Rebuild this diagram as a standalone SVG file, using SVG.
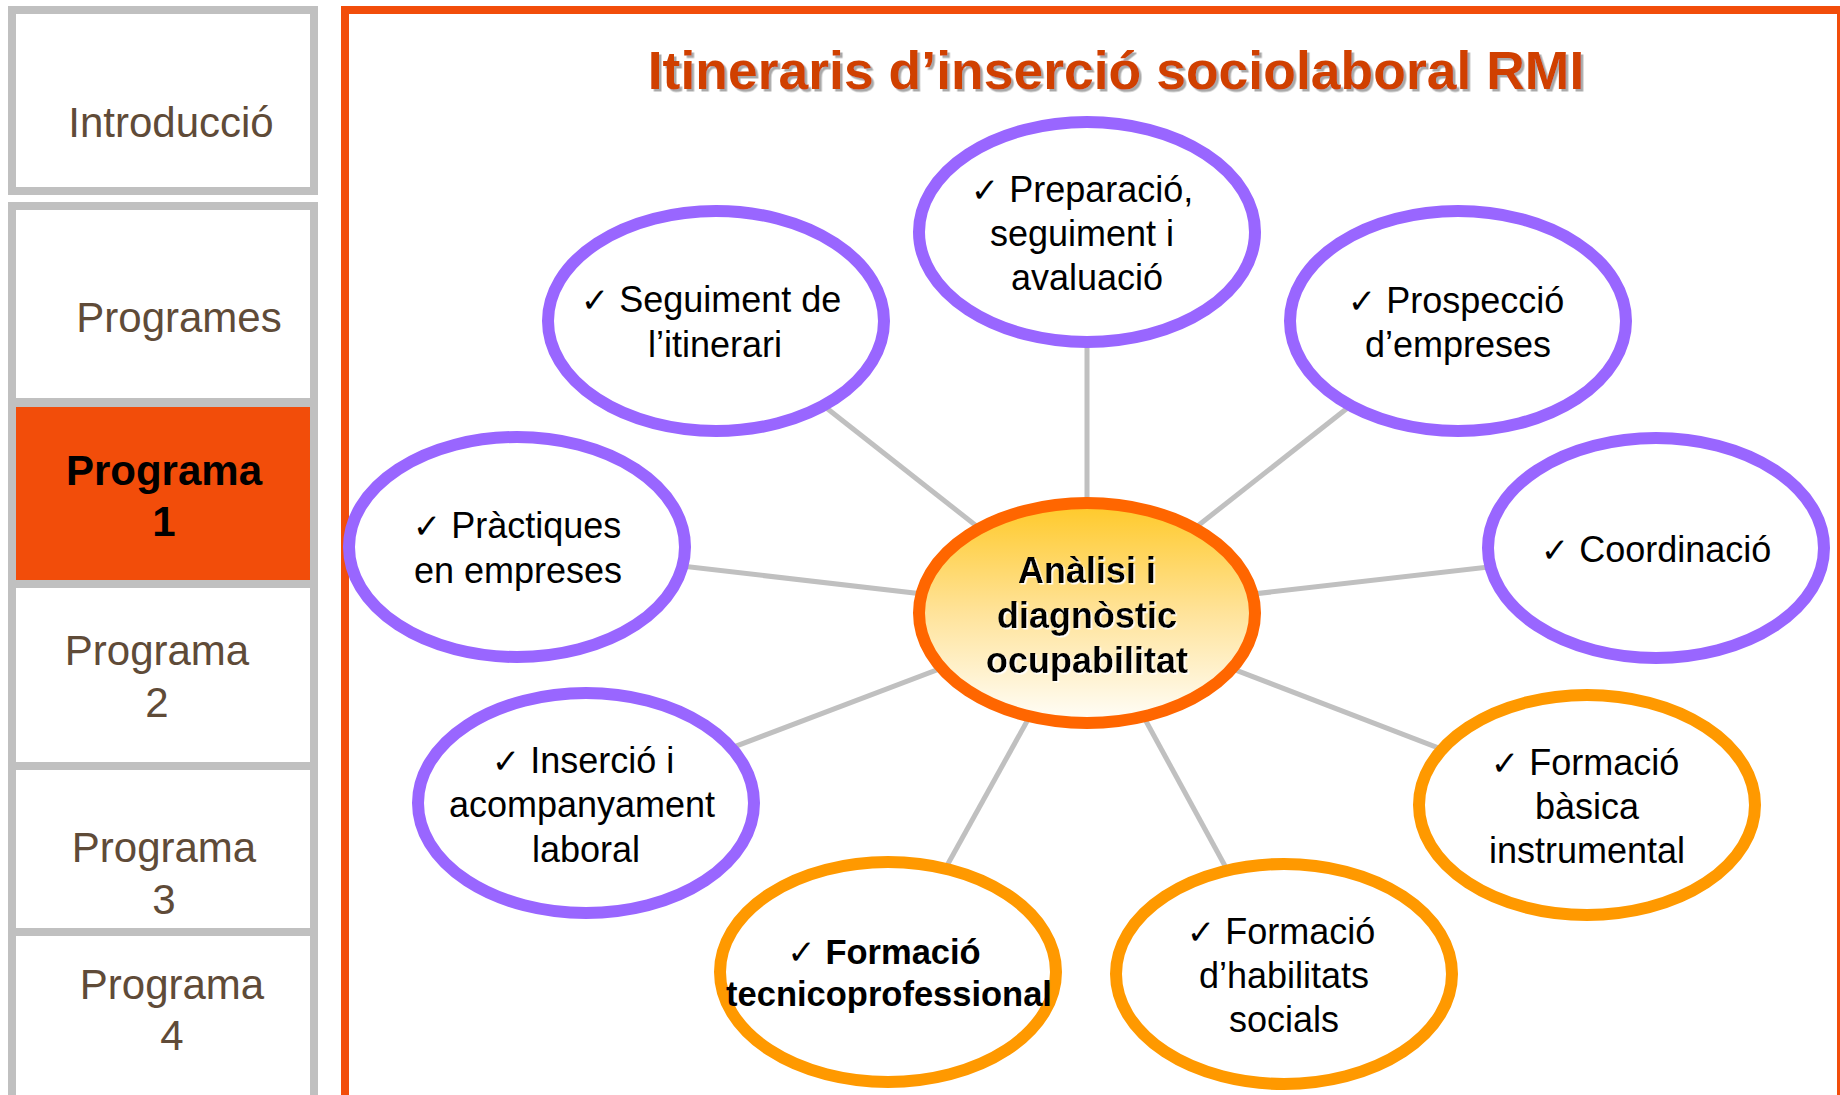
<svg xmlns="http://www.w3.org/2000/svg" width="1840" height="1095" viewBox="0 0 1840 1095">
<defs>
<linearGradient id="cg" x1="0" y1="0" x2="0" y2="1">
<stop offset="0" stop-color="#ffc928"/>
<stop offset="0.5" stop-color="#ffe39a"/>
<stop offset="1" stop-color="#fffefa"/>
</linearGradient>
<filter id="sh" x="-5%" y="-20%" width="110%" height="150%">
<feDropShadow dx="2.5" dy="2.5" stdDeviation="0.6" flood-color="#a0a0a0" flood-opacity="0.9"/>
</filter>
<filter id="wh" x="-10%" y="-20%" width="120%" height="150%">
<feDropShadow dx="1.5" dy="1.5" stdDeviation="0.5" flood-color="#ffffff" flood-opacity="1"/>
</filter>
</defs>
<style>
.nav{fill:#ffffff;stroke:#c0c0c0;stroke-width:8}
.navt{font-family:"Liberation Sans",Arial,sans-serif;font-size:42px;fill:#5f4b38;text-anchor:middle}
.navb{font-family:"Liberation Sans",Arial,sans-serif;font-size:42px;font-weight:bold;fill:#000000;text-anchor:middle}
.sat{fill:#ffffff;stroke-width:12}
.pu{stroke:#9966ff}
.or{stroke:#ff9900}
.lbl{font-family:"Liberation Sans",Arial,sans-serif;font-size:36px;fill:#000000;text-anchor:middle}
.bold{font-weight:bold}
.sm{font-size:34.5px}
.ck{font-family:"DejaVu Sans",sans-serif;font-size:34px;font-weight:bold}
.con line{stroke:#c0c0c0;stroke-width:5}
</style>
<rect width="1840" height="1095" fill="#ffffff"/>

<!-- left navigation -->
<g id="nav-introduccio">
<rect class="nav" x="12" y="10" width="302" height="181"/>
<text class="navt" x="171" y="137">Introducció</text>
</g>
<g id="nav-frame">
<rect class="nav" x="12" y="206" width="302" height="920"/>
</g>
<g id="nav-programes">
<text class="navt" x="179" y="332">Programes</text>
</g>
<g id="nav-programa1">
<rect x="16" y="398" width="294" height="9" fill="#c0c0c0"/>
<rect x="16" y="407" width="294" height="173" fill="#f24d0a"/>
<text class="navb" x="164" y="485">Programa</text>
<text class="navb" x="164" y="536">1</text>
</g>
<g id="nav-programa2">
<rect x="16" y="580" width="294" height="8" fill="#c0c0c0"/>
<text class="navt" x="157" y="665">Programa</text>
<text class="navt" x="157" y="717">2</text>
</g>
<g id="nav-programa3">
<rect x="16" y="762" width="294" height="8" fill="#c0c0c0"/>
<text class="navt" x="164" y="862">Programa</text>
<text class="navt" x="164" y="914">3</text>
</g>
<g id="nav-programa4">
<rect x="16" y="928" width="294" height="8" fill="#c0c0c0"/>
<text class="navt" x="172" y="999">Programa</text>
<text class="navt" x="172" y="1050">4</text>
</g>

<!-- main frame -->
<g id="frame">
<path d="M345 1100 V10 H1841 V1100" fill="none" stroke="#f24d0a" stroke-width="8"/>
</g>
<g id="title">
<text x="1116" y="89" filter="url(#sh)" font-family="'Liberation Sans',Arial,sans-serif" font-size="53.5" font-weight="bold" fill="#d04000" text-anchor="middle">Itineraris d’inserció sociolaboral RMI</text>
</g>

<!-- connectors -->
<g id="connectors" class="con">
<line x1="1087" y1="613" x2="1087" y2="232"/>
<line x1="1087" y1="613" x2="716" y2="321"/>
<line x1="1087" y1="613" x2="1458" y2="321"/>
<line x1="1087" y1="613" x2="1656" y2="548"/>
<line x1="1087" y1="613" x2="517" y2="547"/>
<line x1="1087" y1="613" x2="586" y2="803"/>
<line x1="1087" y1="613" x2="888" y2="972"/>
<line x1="1087" y1="613" x2="1284" y2="974"/>
<line x1="1087" y1="613" x2="1587" y2="805"/>
</g>

<!-- nodes -->
<g id="node-preparacio">
<ellipse class="sat pu" cx="1087" cy="232" rx="168" ry="110"/>
<text class="lbl" x="1082" y="202"><tspan class="ck">✓</tspan> Preparació,</text>
<text class="lbl" x="1082" y="246">seguiment i</text>
<text class="lbl" x="1087" y="290">avaluació</text>
</g>
<g id="node-seguiment">
<ellipse class="sat pu" cx="716" cy="321" rx="168" ry="110"/>
<text class="lbl" x="711" y="312"><tspan class="ck">✓</tspan> Seguiment de</text>
<text class="lbl" x="715" y="357">l’itinerari</text>
</g>
<g id="node-prospeccio">
<ellipse class="sat pu" cx="1458" cy="321" rx="168" ry="110"/>
<text class="lbl" x="1456" y="313"><tspan class="ck">✓</tspan> Prospecció</text>
<text class="lbl" x="1458" y="357">d’empreses</text>
</g>
<g id="node-coordinacio">
<ellipse class="sat pu" cx="1656" cy="548" rx="168" ry="110"/>
<text class="lbl" x="1656" y="562"><tspan class="ck">✓</tspan> Coordinació</text>
</g>
<g id="node-practiques">
<ellipse class="sat pu" cx="517" cy="547" rx="168" ry="110"/>
<text class="lbl" x="517" y="538"><tspan class="ck">✓</tspan> Pràctiques</text>
<text class="lbl" x="518" y="583">en empreses</text>
</g>
<g id="node-insercio">
<ellipse class="sat pu" cx="586" cy="803" rx="168" ry="110"/>
<text class="lbl" x="583" y="773"><tspan class="ck">✓</tspan> Inserció i</text>
<text class="lbl" x="582" y="817">acompanyament</text>
<text class="lbl" x="586" y="862">laboral</text>
</g>
<g id="node-tecnicoprofessional">
<ellipse class="sat or" cx="888" cy="972" rx="168" ry="110"/>
<text class="lbl bold sm" x="884" y="964"><tspan class="ck">✓</tspan> Formació</text>
<text class="lbl bold sm" x="889" y="1006">tecnicoprofessional</text>
</g>
<g id="node-habilitats">
<ellipse class="sat or" cx="1284" cy="974" rx="168" ry="110"/>
<text class="lbl" x="1281" y="944"><tspan class="ck">✓</tspan> Formació</text>
<text class="lbl" x="1284" y="988">d’habilitats</text>
<text class="lbl" x="1284" y="1032">socials</text>
</g>
<g id="node-basica">
<ellipse class="sat or" cx="1587" cy="805" rx="168" ry="110"/>
<text class="lbl" x="1585" y="775"><tspan class="ck">✓</tspan> Formació</text>
<text class="lbl" x="1587" y="819">bàsica</text>
<text class="lbl" x="1587" y="863">instrumental</text>
</g>
<g id="node-center">
<ellipse cx="1087" cy="613" rx="168" ry="110" fill="url(#cg)" stroke="#ff6600" stroke-width="12"/>
<g filter="url(#wh)">
<text class="lbl bold" x="1087" y="583">Anàlisi i</text>
<text class="lbl bold" x="1087" y="628">diagnòstic</text>
<text class="lbl bold" x="1087" y="673">ocupabilitat</text>
</g>
</g>
</svg>
